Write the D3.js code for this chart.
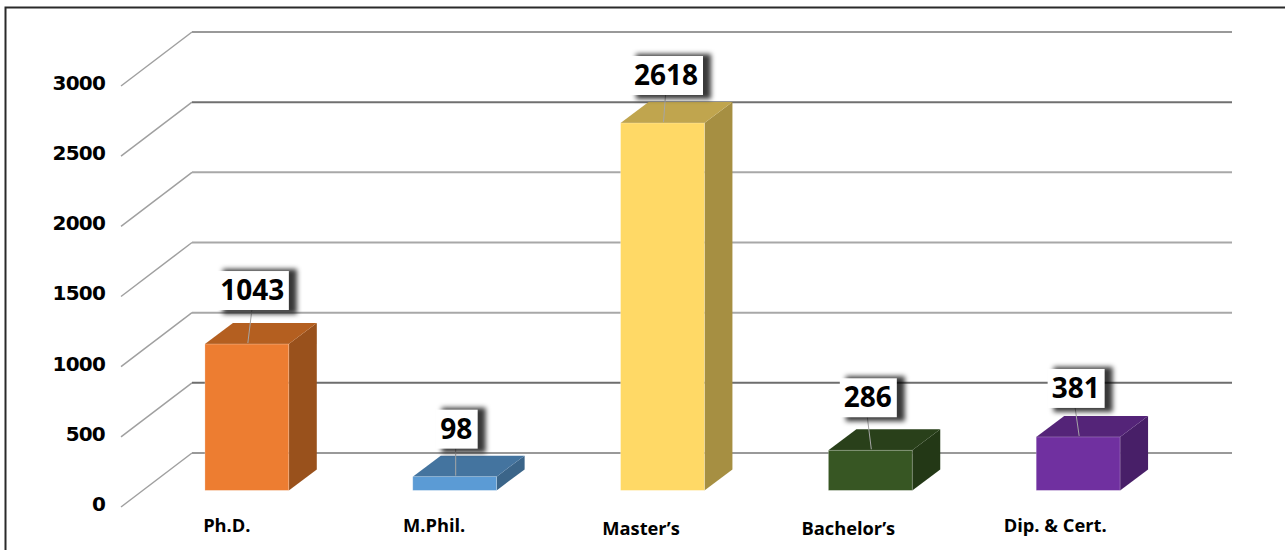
<!DOCTYPE html>
<html>
<head>
<meta charset="utf-8">
<script src="https://cdn.jsdelivr.net/npm/d3@7"></script>
<style>
html, body { margin: 0; padding: 0; background: #fff; overflow: hidden; }
svg { display: block; }
</style>
</head>
<body>
<div id="chart"></div>
<script>
var categories = ["Ph.D.", "M.Phil.", "Master\u2019s", "Bachelor\u2019s", "Dip. & Cert."];
var values = [1043, 98, 2618, 286, 381];
var tickValues = [0, 500, 1000, 1500, 2000, 2500, 3000];
var frontColors = ["#ed7d31", "#5b9bd5", "#ffd966", "#375623", "#7030a0"];
var topColors = ["#b45f20", "#44749f", "#c0a54e", "#29401a", "#542478"];
var sideColors = ["#99511c", "#3b6589", "#a68f42", "#233816", "#481f68"];

var svg = d3.select("#chart").append("svg").attr("width", 1285).attr("height", 550);

// frame, open on the right
svg.append("path").attr("d", "M5.5,550V7.5H1285")
    .attr("fill", "none").attr("stroke", "#2a2a2a").attr("stroke-width", 2);

var defs = svg.append("defs");
defs.append("filter").attr("id", "blur").attr("x", "-30%").attr("y", "-30%").attr("width", "160%").attr("height", "160%")
    .append("feGaussianBlur").attr("stdDeviation", 2.8);
defs.append("filter").attr("id", "soft")
    .attr("filterUnits", "userSpaceOnUse").attr("x", -200).attr("y", -200).attr("width", 1500).attr("height", 800)
    .append("feGaussianBlur").attr("stdDeviation", 0.45);

// front of the chart floor sits at y(0), back wall is shifted by wall
var margin = {left: 121, top: 86};
var wall = {dx: 71, dy: -54};
var depth = {dx: 28, dy: -21};
var floorOffset = {dx: 22, dy: -16.6};
var wallWidth = 1040;

var x = d3.scaleBand().domain(categories).range([0, 1039]).paddingInner(0.5965).paddingOuter(0.298);
var y = d3.scaleLinear().domain([0, 3000]).range([421, 0]);

var g = svg.append("g").attr("transform", "translate(" + margin.left + "," + margin.top + ")");

// walls
var gridColor = {0: "#999", 500: "#6e6e6e", 1000: "#a8a8a8", 1500: "#a8a8a8", 2000: "#a8a8a8", 2500: "#707070", 3000: "#999"};
var walls = g.append("g").attr("filter", "url(#soft)");
walls.selectAll(".side").data(tickValues).enter().append("line")
    .attr("class", "side")
    .attr("x1", 0)
    .attr("y1", function(d) { return y(d); })
    .attr("x2", wall.dx)
    .attr("y2", function(d) { return y(d) + wall.dy; })
    .attr("stroke", "#a0a0a0").attr("stroke-width", 1.5);
walls.selectAll(".grid").data(tickValues).enter().append("line")
    .attr("class", "grid")
    .attr("x1", wall.dx)
    .attr("x2", wall.dx + wallWidth)
    .attr("y1", function(d) { return y(d) + wall.dy; })
    .attr("y2", function(d) { return y(d) + wall.dy; })
    .attr("stroke", function(d) { return gridColor[d]; })
    .attr("stroke-width", 2);

// tick labels
var axis = g.append("g").attr("transform", "translate(-16,-3)")
    .call(d3.axisLeft(y).tickValues(tickValues).tickSize(0).tickPadding(0).tickFormat(d3.format("d")));
axis.select(".domain").remove();
axis.selectAll("text")
    .attr("fill", "#000")
    .style("font-family", "'DejaVu Sans'")
    .style("font-weight", "bold")
    .style("font-size", "20px")
    .style("letter-spacing", "-0.8px");

// bars
var bars = g.append("g").attr("transform", "translate(" + floorOffset.dx + "," + floorOffset.dy + ")")
    .selectAll(".bar").data(values).enter().append("g").attr("class", "bar");

function pts(list) {
    return list.map(function(p) { return p[0] + "," + p[1]; }).join(" ");
}
var bw = x.bandwidth();
bars.append("polygon")
    .attr("points", function(d, i) {
        var x0 = x(categories[i]), t = y(d), b = y(0);
        return pts([[x0 + bw, t], [x0 + bw + depth.dx, t + depth.dy], [x0 + bw + depth.dx, b + depth.dy], [x0 + bw, b]]);
    })
    .attr("fill", function(d, i) { return sideColors[i]; });
bars.append("polygon")
    .attr("points", function(d, i) {
        var x0 = x(categories[i]), t = y(d);
        return pts([[x0, t], [x0 + depth.dx, t + depth.dy], [x0 + bw + depth.dx, t + depth.dy], [x0 + bw, t]]);
    })
    .attr("fill", function(d, i) { return topColors[i]; });
bars.append("rect")
    .attr("x", function(d, i) { return x(categories[i]); })
    .attr("y", function(d) { return y(d); })
    .attr("width", bw)
    .attr("height", function(d) { return y(0) - y(d); })
    .attr("fill", function(d, i) { return frontColors[i]; })
    .attr("stroke", "#fff").attr("stroke-opacity", 0.3).attr("stroke-width", 0.8);

// value labels: each box was placed by hand in the original, so nudge per bar
var boxNudge = [[6, -34], [2, -28], [4, -28], [-2, -33], [-2, -29]];
var boxW = [72, 42, 73, 57, 57];
var boxH = 39;
var labels = bars.append("g");

labels.append("line")
    .attr("x1", function(d, i) { return x(categories[i]) + bw / 2 + boxNudge[i][0] - 1; })
    .attr("y1", function(d, i) { return y(d) + boxNudge[i][1]; })
    .attr("x2", function(d, i) { return x(categories[i]) + bw / 2 + 1; })
    .attr("y2", function(d) { return y(d) - 1; })
    .attr("stroke", "#a6a6a6").attr("stroke-width", 1);
labels.append("rect")
    .attr("x", function(d, i) { return x(categories[i]) + bw / 2 + boxNudge[i][0] - boxW[i] / 2 + 6; })
    .attr("y", function(d, i) { return y(d) + boxNudge[i][1] - boxH - 2; })
    .attr("width", function(d, i) { return boxW[i] + 2; })
    .attr("height", boxH + 6)
    .attr("fill", "#000").attr("fill-opacity", 0.78)
    .attr("filter", "url(#blur)");
labels.append("rect")
    .attr("x", function(d, i) { return x(categories[i]) + bw / 2 + boxNudge[i][0] - boxW[i] / 2; })
    .attr("y", function(d, i) { return y(d) + boxNudge[i][1] - boxH; })
    .attr("width", function(d, i) { return boxW[i]; })
    .attr("height", boxH)
    .attr("fill", "#fff");
labels.append("text")
    .attr("x", function(d, i) { return x(categories[i]) + bw / 2 + boxNudge[i][0] - 0.5; })
    .attr("y", function(d, i) { return y(d) + boxNudge[i][1] - 10; })
    .attr("text-anchor", "middle")
    .style("font-family", "'Open Sans'")
    .style("font-weight", "bold")
    .style("font-size", "28px")
    .attr("fill", "#000")
    .text(function(d) { return d; });

// category labels sit unevenly in the original too
var catNudge = [[-20, 0], [-20.5, 0], [-21.5, 3], [-22, 3], [-23, 0]];
svg.selectAll(".cat").data(categories).enter().append("text")
    .attr("class", "cat")
    .attr("x", function(d, i) { return margin.left + floorOffset.dx + x(d) + bw / 2 + catNudge[i][0]; })
    .attr("y", function(d, i) { return 532 + catNudge[i][1]; })
    .attr("text-anchor", "middle")
    .style("font-family", "'Open Sans'")
    .style("font-weight", "bold")
    .style("font-size", "18.3px")
    .attr("fill", "#000")
    .text(function(d) { return d; });
</script>
</body>
</html>
